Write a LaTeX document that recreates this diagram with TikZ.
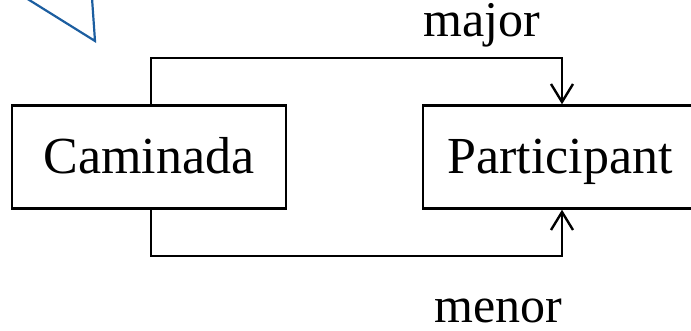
\documentclass[tikz,border=0pt]{standalone}
\usepackage{fontspec}
\setmainfont{Liberation Serif}
\usetikzlibrary{arrows.meta,positioning}

\definecolor{calloutblue}{RGB}{28,94,160}

\begin{document}
\begin{tikzpicture}[x=0.5pt, y=-0.5pt,
  box/.style = {draw, line width=1.2pt, shape=rectangle, inner sep=0pt,
                minimum width=137pt, minimum height=51.5pt,
                text height=19pt, text depth=2pt,
                font=\fontsize{26}{30}\selectfont},
  lbl/.style = {anchor=base, inner sep=0pt, font=\fontsize{25}{30}\selectfont},
  arr/.style = {line width=1.2pt, -{Straight Barb[length=9pt, width=11pt, line width=1.2pt]}}]
\useasboundingbox (0,0) rectangle (691,331);
\node[box] (cam) at (149,157) {Caminada};
\node[box] (par) at (560,157) {Participant};
\node[lbl] (maj) at (482,37) {major};
\node[lbl] (men) at (498,323) {menor};
\draw[arr] ([xshift=1pt]cam.north) -- ++(0,-46.5) -| ([xshift=1pt]par.north);
\draw[arr] ([xshift=1pt]cam.south) -- ++(0,46.5) -| ([xshift=1pt]par.south);
% piece of a callout, cut at the top
\draw[calloutblue, line width=1.1pt] (26,-2) -- (95,41) -- (92,-2);
\end{tikzpicture}
\end{document}
